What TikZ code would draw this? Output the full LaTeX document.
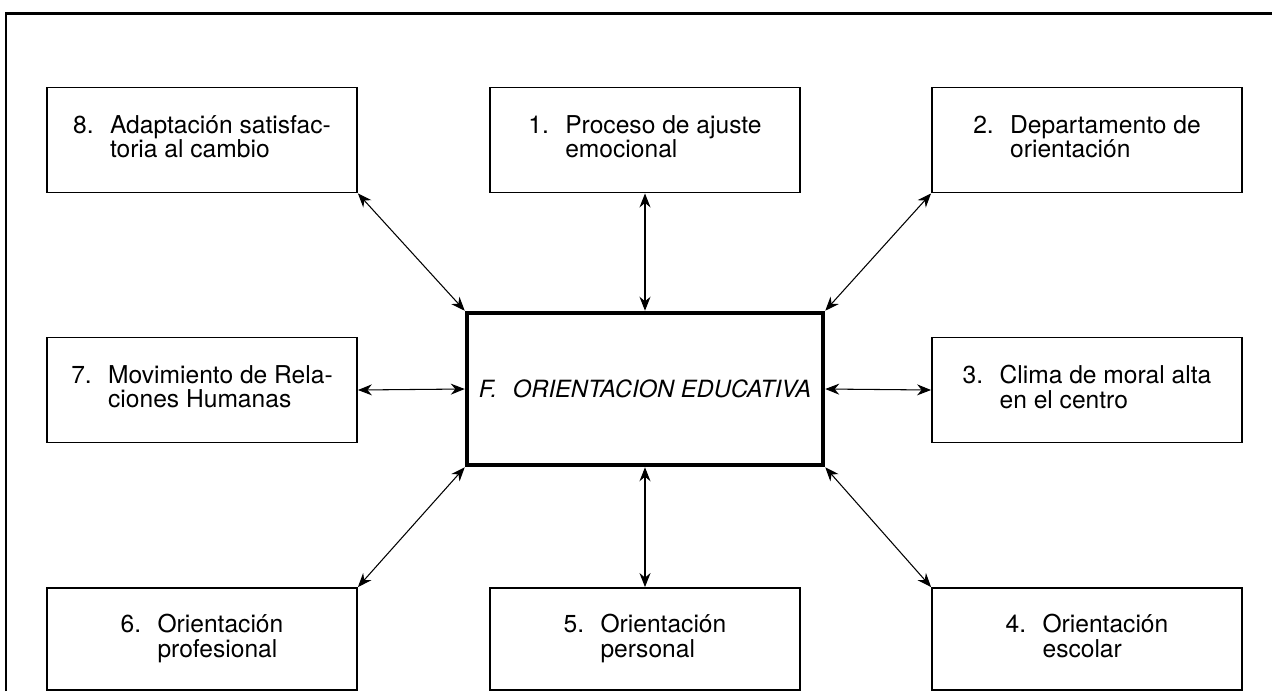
\documentclass[tikz,border=0pt]{standalone}
\usepackage{fontspec}
\setmainfont{TeX Gyre Heros}
\usetikzlibrary{arrows.meta}
\newcommand{\punto}[3]{\begin{tabular}{@{}l@{}l@{}}\makebox[21pt][l]{#1.}&#2\\&#3\end{tabular}}
\tikzset{
  caja/.style={draw,line width=1.1pt,minimum width=6.2cm,minimum height=2.1cm,inner sep=0pt,
    font=\fontsize{14}{12.6}\selectfont},
  cajab/.style={caja,minimum height=2.04cm},
  central/.style={draw,line width=2.6pt,minimum width=7.12cm,minimum height=3.04cm,inner sep=0pt,
    font=\fontsize{13.5}{12.5}\selectfont\itshape},
  flecha/.style={{Stealth[length=2.8mm,width=2.2mm]}-{Stealth[length=2.8mm,width=2.2mm]},line width=0.6pt},
  marco/.style={line width=1.7pt},
}
\begin{document}
\begin{tikzpicture}[x=0.02cm,y=-0.02cm]
  \useasboundingbox (0,0) rectangle (1272,691);
  \draw[marco] (6,691) |- (1272,13);
  \node[central] (fo) at (645,389) {F.\hspace{9pt}ORIENTACION EDUCATIVA};
  \node[caja] (c8) at (202,140) {\punto{8}{Adaptación satisfac-}{toria al cambio}};
  \node[caja] (c1) at (645,140) {\punto{1}{Proceso de ajuste}{emocional}};
  \node[caja] (c2) at (1087,140) {\punto{2}{Departamento de}{orientación}};
  \node[caja] (c7) at (202,390) {\punto{7}{Movimiento de Rela-}{ciones Humanas}};
  \node[caja] (c3) at (1087,390) {\punto{3}{Clima de moral alta}{en el centro}};
  \node[cajab] (c6) at (202,639) {\punto{6}{Orientación}{profesional}};
  \node[cajab] (c5) at (645,639) {\punto{5}{Orientación}{personal}};
  \node[cajab] (c4) at (1087,639) {\punto{4}{Orientación}{escolar}};
  \draw[flecha] (c8.south east) -- (fo.north west);
  \draw[flecha] (c1.south) -- (fo.north);
  \draw[flecha] (c2.south west) -- (fo.north east);
  \draw[flecha] (c7.east) -- (fo.west);
  \draw[flecha] (c3.west) -- (fo.east);
  \draw[flecha] (c6.north east) -- (fo.south west);
  \draw[flecha] (c5.north) -- (fo.south);
  \draw[flecha] (c4.north west) -- (fo.south east);
\end{tikzpicture}
\end{document}
